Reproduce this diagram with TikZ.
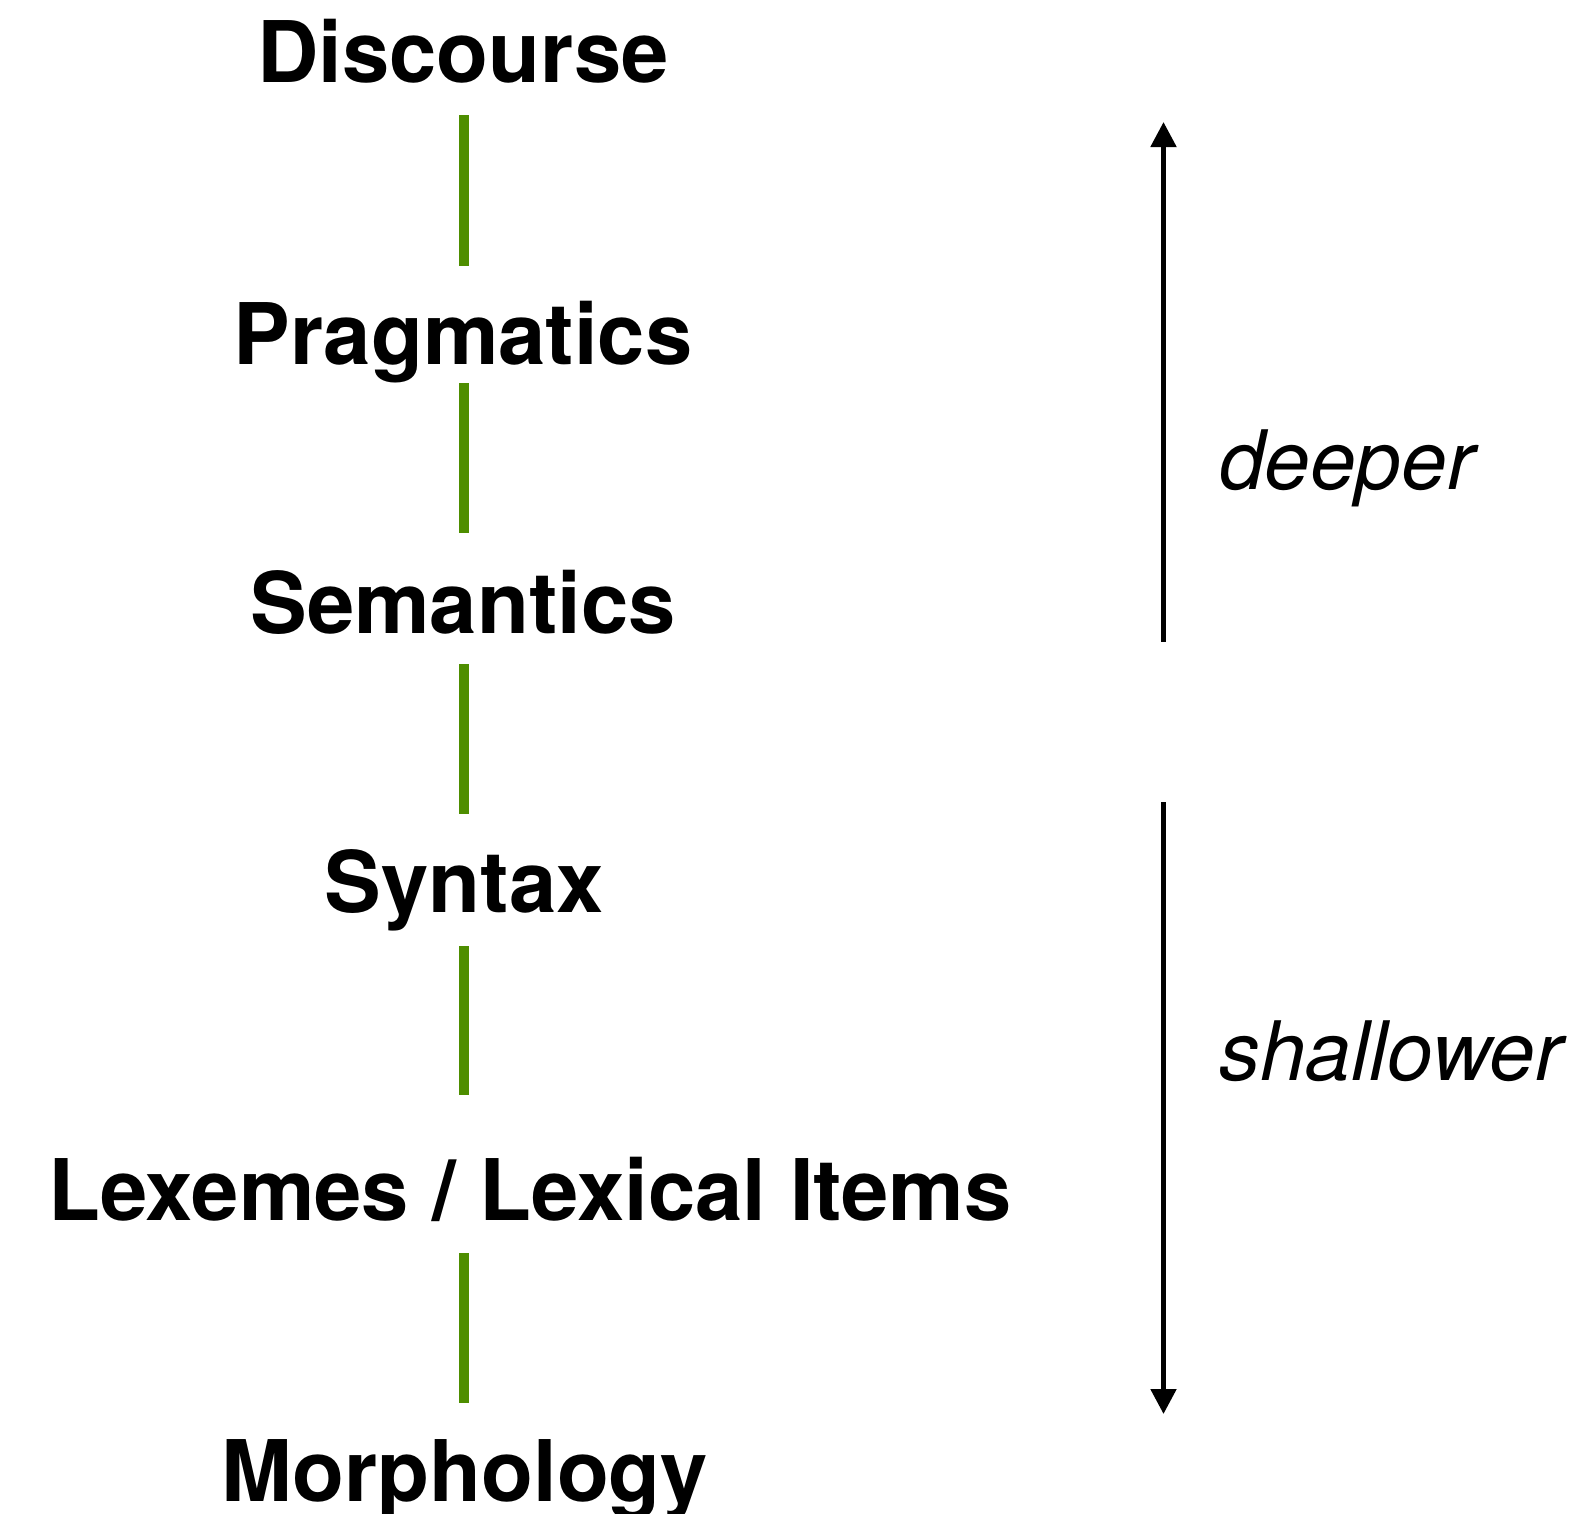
\documentclass[tikz,border=0pt]{standalone}
\usepackage{fontspec}
\setmainfont{TeX Gyre Heros}
\usetikzlibrary{arrows.meta}
\definecolor{linkgreen}{RGB}{78,142,0}
\tikzset{
  level/.style={anchor=base, inner sep=0pt, font=\fontsize{85}{100}\selectfont\bfseries},
  depthlabel/.style={anchor=base west, inner sep=0pt, font=\fontsize{82}{96}\selectfont\itshape},
  link/.style={draw=linkgreen, line width=10.7pt},
  scale arrow/.style={draw=black, line width=5pt}
}
\begin{document}
\begin{tikzpicture}[x=1pt,y=-1pt]
\useasboundingbox (0,0) rectangle (1584,1513);
% level labels
\node[level] (disc) at (463,82) {Discourse};
\node[level] (prag) at (463,364) {Pragmatics};
\node[level] (sem)  at (463,633) {Semantics};
\node[level] (syn)  at (464,912) {Syntax};
\node[level] (lex)  at (530,1220) {Lexemes / Lexical Items};
\node[level] (mor)  at (465,1501) {Morphology};
% connector end points
\coordinate (l1a) at (464,115);  \coordinate (l1b) at (464,266);
\coordinate (l2a) at (464,383);  \coordinate (l2b) at (464,533);
\coordinate (l3a) at (464,664);  \coordinate (l3b) at (464,814);
\coordinate (l4a) at (464,946);  \coordinate (l4b) at (464,1095);
\coordinate (l5a) at (464,1253); \coordinate (l5b) at (464,1403);
\draw[link] (l1a) -- (l1b);
\draw[link] (l2a) -- (l2b);
\draw[link] (l3a) -- (l3b);
\draw[link] (l4a) -- (l4b);
\draw[link] (l5a) -- (l5b);
% depth arrows
\coordinate (dtop) at (1163.5,122);
\coordinate (dbot) at (1163.5,642);
\coordinate (stop) at (1163.5,802);
\coordinate (sbot) at (1163.5,1414);
\draw[scale arrow, {Triangle[length=25pt,width=25pt]}-] (dtop) -- (dbot);
\draw[scale arrow, -{Triangle[length=25pt,width=25pt]}] (stop) -- (sbot);
\node[depthlabel] (deep) at (1219,489) {deeper};
\node[depthlabel] (shal) at (1219,1080) {shallower};
\end{tikzpicture}
\end{document}
